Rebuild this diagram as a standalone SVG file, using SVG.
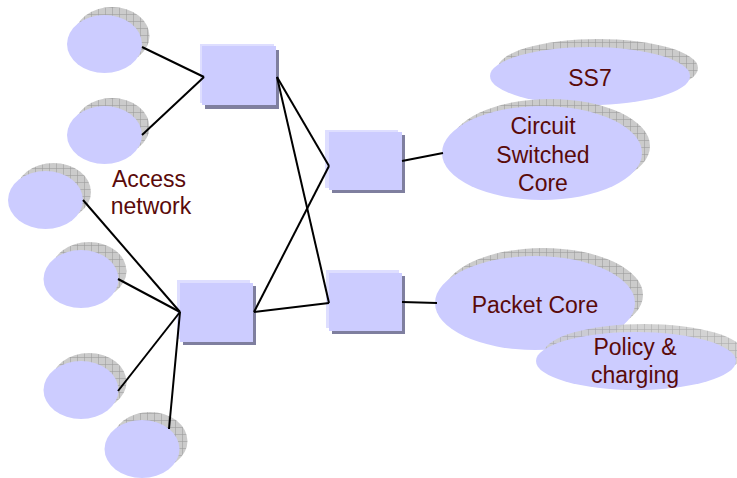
<svg xmlns="http://www.w3.org/2000/svg" width="737" height="478" viewBox="0 0 737 478">
<defs>
<pattern id="hatch" width="7" height="7" patternUnits="userSpaceOnUse">
<rect width="7" height="7" fill="#cbcbcb"/>
<path d="M0 0.3H7M0.3 0V7" stroke="#9a9a9a" stroke-width="0.7"/>
</pattern>
<style>
.sh{fill:url(#hatch)}
.el{fill:#ccccff}
.hl{fill:#dedeff}
.rs{fill:#7f7f9f}
.bx{fill:#ccccff}
.t{font-family:"Liberation Sans",Arial,sans-serif;font-size:23px;fill:#5a0a0a;text-anchor:middle}
.c line{stroke:#000;stroke-width:2}
</style>
</defs>
<rect width="737" height="478" fill="#fff"/>

<g id="acc1"><ellipse class="sh" cx="112" cy="36" rx="37.5" ry="29"/><ellipse class="el" cx="104.5" cy="44" rx="37.5" ry="29"/></g>
<g id="acc2"><ellipse class="sh" cx="112" cy="127" rx="37.5" ry="29"/><ellipse class="el" cx="104.5" cy="135" rx="37.5" ry="29"/></g>
<g id="acc3"><ellipse class="sh" cx="53.5" cy="192" rx="37.5" ry="29"/><ellipse class="el" cx="45.5" cy="200" rx="37.5" ry="29"/></g>
<g id="acc4"><ellipse class="sh" cx="89" cy="271" rx="37.5" ry="29"/><ellipse class="el" cx="81" cy="279" rx="37.5" ry="29"/></g>
<g id="acc5"><ellipse class="sh" cx="89" cy="382" rx="37.5" ry="29"/><ellipse class="el" cx="81" cy="390" rx="37.5" ry="29"/></g>
<g id="acc6"><ellipse class="sh" cx="150" cy="441" rx="37.5" ry="29"/><ellipse class="el" cx="142" cy="449" rx="37.5" ry="29"/></g>

<g id="access-label"><text class="t" x="149" y="187">Access</text><text class="t" x="151" y="214">network</text></g>

<g id="ss7"><ellipse class="sh" cx="598" cy="68" rx="100" ry="29"/><ellipse class="el" cx="590" cy="76" rx="100" ry="29"/><text class="t" x="590" y="86">SS7</text></g>
<g id="cs-core"><ellipse class="sh" cx="550" cy="146" rx="100" ry="47"/><ellipse class="el" cx="542" cy="153" rx="100" ry="47"/><text class="t" x="543" y="134">Circuit</text><text class="t" x="543" y="163">Switched</text><text class="t" x="543" y="191">Core</text></g>
<g id="packet-core"><ellipse class="sh" cx="543" cy="295" rx="100" ry="47"/><ellipse class="el" cx="535" cy="303" rx="100" ry="47"/><text class="t" x="535" y="313">Packet Core</text></g>
<g id="policy"><ellipse class="sh" cx="644" cy="353" rx="100" ry="29" opacity="0.85"/><ellipse class="el" cx="636" cy="361" rx="100" ry="29"/><text class="t" x="635" y="355">Policy &amp;</text><text class="t" x="635" y="383">charging</text></g>

<g id="sw1"><rect class="rs" x="205" y="50" width="74" height="59"/><rect class="hl" x="200" y="44" width="74" height="59"/><rect class="bx" x="202" y="46" width="74" height="59"/></g>
<g id="sw2"><rect class="rs" x="183" y="286" width="73" height="59"/><rect class="hl" x="177" y="280" width="73" height="59"/><rect class="bx" x="180" y="283" width="73" height="59"/></g>
<g id="sw3"><rect class="rs" x="332" y="135" width="73" height="58"/><rect class="hl" x="325" y="130" width="73" height="58"/><rect class="bx" x="329" y="132" width="73" height="58"/></g>
<g id="sw4"><rect class="rs" x="332" y="276" width="73" height="58"/><rect class="hl" x="326" y="270" width="73" height="58"/><rect class="bx" x="329" y="273" width="73" height="58"/></g>

<g id="connectors" class="c">
<line x1="142" y1="47" x2="204" y2="77"/>
<line x1="142" y1="135" x2="204" y2="77"/>
<line x1="277" y1="77" x2="329" y2="166"/>
<line x1="277" y1="77" x2="329" y2="303"/>
<line x1="254" y1="312" x2="329" y2="166"/>
<line x1="254" y1="312" x2="329" y2="303"/>
<line x1="83" y1="200" x2="180" y2="312"/>
<line x1="118" y1="279" x2="180" y2="312"/>
<line x1="118" y1="391" x2="180" y2="312"/>
<line x1="169" y1="429" x2="180" y2="312"/>
<line x1="402" y1="161" x2="443" y2="153"/>
<line x1="402" y1="302" x2="437" y2="303"/>
</g>
</svg>
